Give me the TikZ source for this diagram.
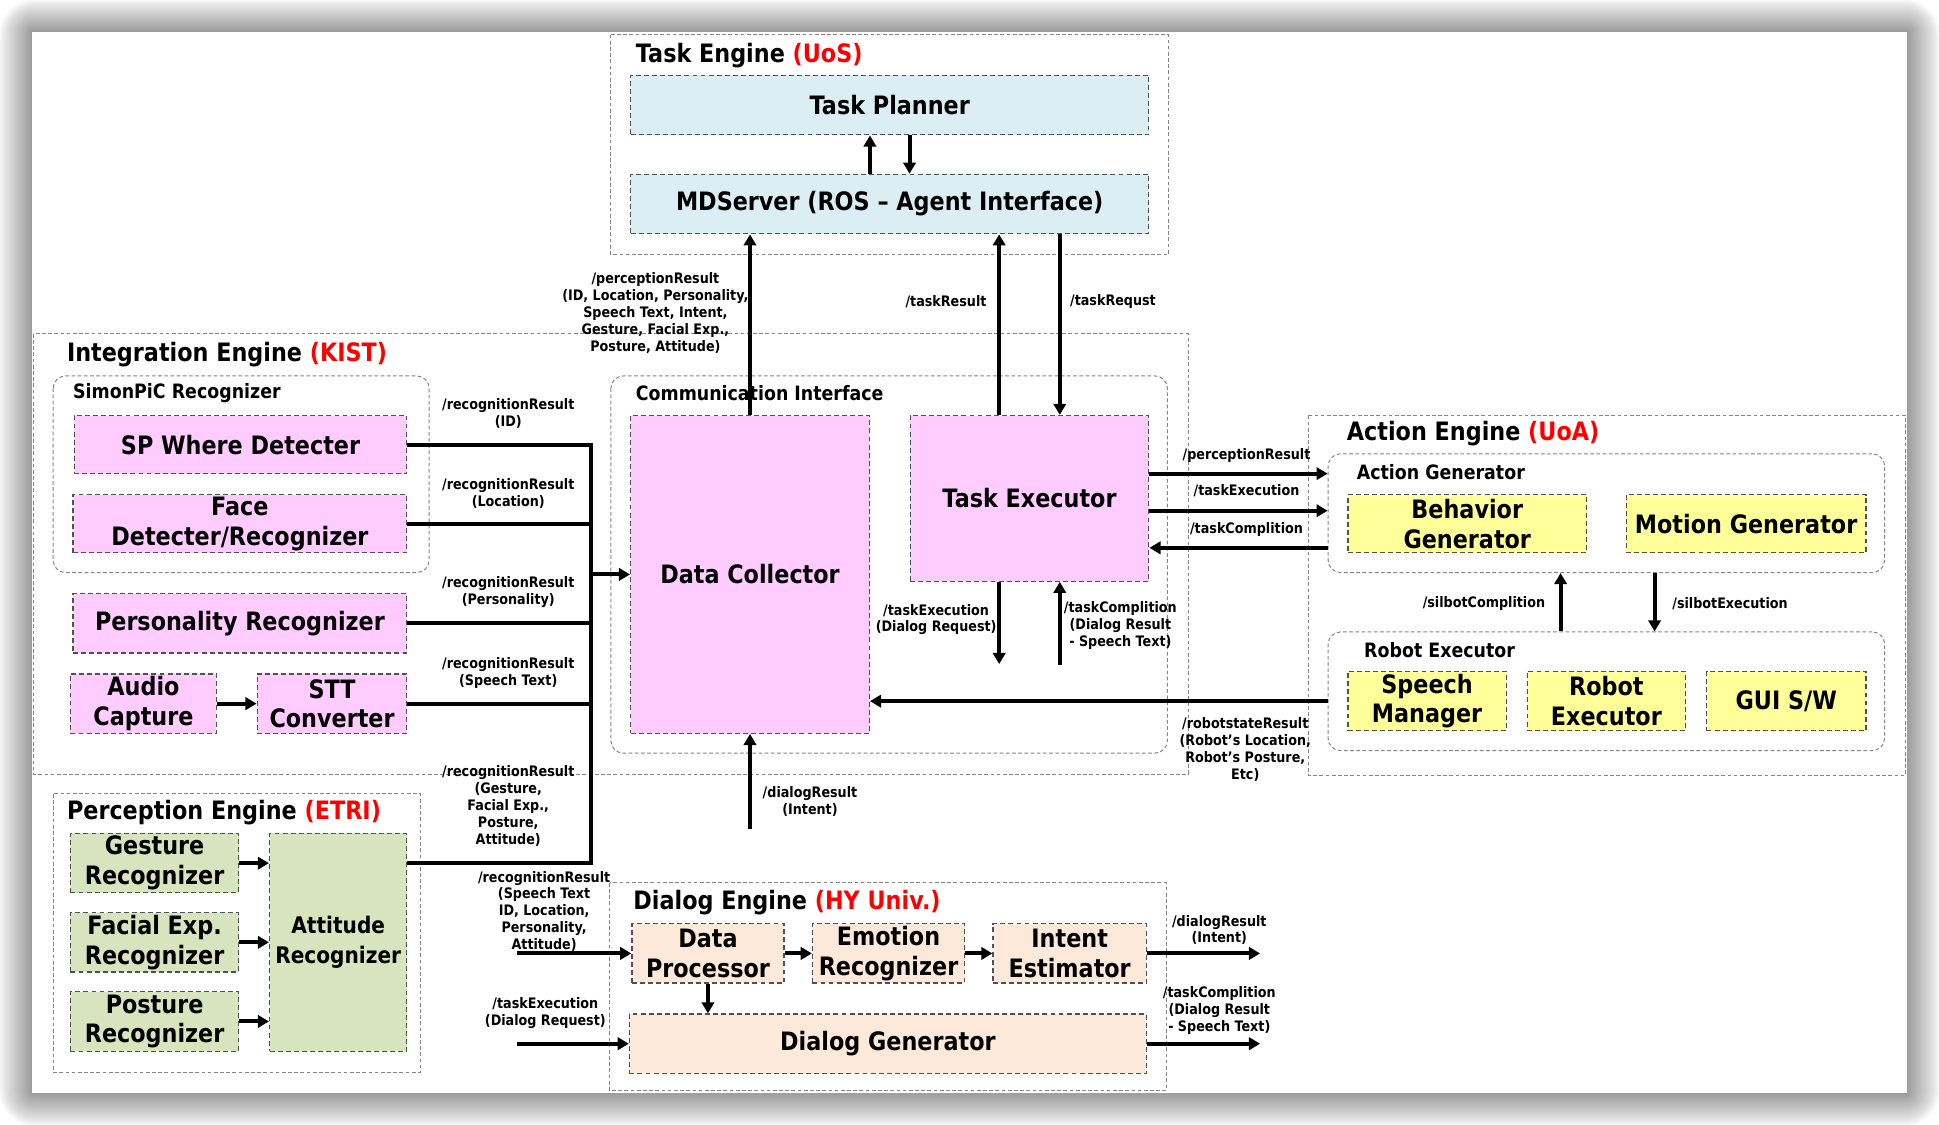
\documentclass[tikz,border=0pt]{standalone}
\usepackage{fontspec}
\setmainfont{DejaVu Sans}[FakeStretch=0.88]
\usetikzlibrary{arrows.meta}
\definecolor{cblue}{HTML}{DAEEF3}
\definecolor{cpink}{HTML}{FFCCFF}
\definecolor{cyel}{HTML}{FFFF99}
\definecolor{cgreen}{HTML}{D7E4BD}
\definecolor{cpeach}{HTML}{FDE9D9}
\definecolor{bord}{HTML}{505050}
\definecolor{cbord}{HTML}{858585}
\newcommand\boxfont{\fontsize{20.5}{24}\selectfont\bfseries}
\newcommand\subfont{\fontsize{16}{19}\selectfont\bfseries}
\newcommand\labfont{\fontsize{11.7}{13.7}\selectfont\bfseries}
\begin{document}
\begin{tikzpicture}[x=1pt,y=-1pt,
  comp/.style={draw=bord, line width=1pt, dash pattern=on 4pt off 2.5pt, inner sep=0pt, align=center, font=\boxfont},
  cont/.style={draw=cbord, line width=0.8pt, dash pattern=on 3pt off 2pt},
  rcont/.style={cont, rounded corners=10pt},
  ttl/.style={anchor=west, inner sep=0pt, font=\boxfont},
  sub/.style={anchor=west, inner sep=0pt, font=\subfont},
  lab/.style={align=center, inner sep=0pt, font=\labfont},
  arr/.style={line width=3.2pt, -{Triangle[length=9pt,width=10pt]}},
  bus/.style={line width=3.2pt}]
\useasboundingbox (0,0) rectangle (1568,909.7);
% shadow and panel
\foreach \r in {1,...,30}
  \fill[black, opacity=0.015, rounded corners=\r pt] (26-0.9*\r,26-0.9*\r) rectangle (1542+0.9*\r,884+0.9*\r);
\fill[white] (26,26) rectangle (1542,884);
% containers
\path[cont] (494,28) rectangle (945,206);
\path[cont] (27,270) rectangle (961,626);
\path[rcont] (43,304) rectangle (347,463);
\path[rcont] (494,304) rectangle (944,609);
\path[cont] (1058,336) rectangle (1541,627);
\node[rcont, minimum width=450pt, minimum height=96pt] (ag) at (1299,415) {};
\node[rcont, minimum width=450pt, minimum height=96pt] (rx) at (1299,559) {};
\path[cont] (43,642) rectangle (340,867);
\path[cont] (493,714) rectangle (943,882);
% titles
\node[ttl] (t1) at (514,45) {Task Engine \textcolor{red}{(UoS)}};
\node[ttl] (t2) at (54,287) {Integration Engine \textcolor{red}{(KIST)}};
\node[sub] (t3) at (59,318) {SimonPiC Recognizer};
\node[sub] (t4) at (514,318) {Communication Interface};
\node[ttl] (t5) at (1089,351) {Action Engine \textcolor{red}{(UoA)}};
\node[sub] (t6) at (1097,382) {Action Generator};
\node[sub] (t7) at (1103,526) {Robot Executor};
\node[ttl] (t8) at (54,657) {Perception Engine \textcolor{red}{(ETRI)}};
\node[ttl] (t9) at (512,730) {Dialog Engine \textcolor{red}{(HY Univ.)}};
% components
\node[comp, fill=cblue, minimum width=419pt, minimum height=48pt] (tp) at (719.5,85) {Task Planner};
\node[comp, fill=cblue, minimum width=419pt, minimum height=48pt] (md) at (719.5,165) {MDServer (ROS – Agent Interface)};
\node[comp, fill=cpink, minimum width=269pt, minimum height=47pt] (sp) at (194.5,359.5) {SP Where Detecter};
\node[comp, fill=cpink, minimum width=270pt, minimum height=47pt] (face) at (194,423.5) {Face\\Detecter/Recognizer};
\node[comp, fill=cpink, minimum width=270pt, minimum height=48pt] (pers) at (194,504) {Personality Recognizer};
\node[comp, fill=cpink, minimum width=118pt, minimum height=48pt] (audio) at (116,569) {Audio\\Capture};
\node[comp, fill=cpink, minimum width=121pt, minimum height=48pt] (stt) at (268.5,569) {STT\\Converter};
\node[comp, fill=cpink, minimum width=193pt, minimum height=257pt] (dc) at (606.5,464.5) {Data Collector};
\node[comp, fill=cpink, minimum width=193pt, minimum height=134pt] (te) at (832.5,403) {Task Executor};
\node[comp, fill=cyel, minimum width=193pt, minimum height=47pt] (bg) at (1186.5,423.5) {Behavior\\Generator};
\node[comp, fill=cyel, minimum width=194pt, minimum height=47pt] (mg) at (1412,423.5) {Motion Generator};
\node[comp, fill=cyel, minimum width=128pt, minimum height=48pt] (sm) at (1154,567) {Speech\\Manager};
\node[comp, fill=cyel, minimum width=128pt, minimum height=48pt] (re) at (1299,567) {Robot\\Executor};
\node[comp, fill=cyel, minimum width=129pt, minimum height=48pt] (gui) at (1444.5,567) {GUI S/W};
\node[comp, fill=cgreen, minimum width=136pt, minimum height=48pt] (ges) at (125,698) {Gesture\\Recognizer};
\node[comp, fill=cgreen, minimum width=136pt, minimum height=48pt] (fac) at (125,762) {Facial Exp.\\Recognizer};
\node[comp, fill=cgreen, minimum width=136pt, minimum height=48pt] (pos) at (125,826) {Posture\\Recognizer};
\node[comp, fill=cgreen, minimum width=111pt, minimum height=176pt, font=\fontsize{18.5}{24}\selectfont\bfseries] (att) at (273.5,762) {Attitude\\Recognizer};
\node[comp, fill=cpeach, minimum width=123pt, minimum height=48pt] (dp) at (572.5,771) {Data\\Processor};
\node[comp, fill=cpeach, minimum width=123pt, minimum height=48pt] (er) at (718.5,771) {Emotion\\Recognizer};
\node[comp, fill=cpeach, minimum width=124pt, minimum height=48pt] (ie) at (865,771) {Intent\\Estimator};
\node[comp, fill=cpeach, minimum width=418pt, minimum height=48pt] (dg) at (718,844) {Dialog Generator};
% bus
\coordinate (bx) at (478,0);
\draw[bus] (sp.east) -| (ges.east -| bx) -- (ges.east -| att.east);
\draw[bus] (face.east) -- (face.east -| bx);
\draw[bus] (pers.east) -- (pers.east -| bx);
\draw[bus] (stt.east) -- (stt.east -| bx);
\draw[arr] (dc.west -| bx) -- (dc.west);
% local arrows
\draw[arr] (audio.east) -- (stt.west);
\draw[arr] (ges.east) -- (ges.east -| att.west);
\draw[arr] (fac.east) -- (fac.east -| att.west);
\draw[arr] (pos.east) -- (pos.east -| att.west);
\draw[arr] (dp.east) -- (er.west);
\draw[arr] (er.east) -- (ie.west);
\draw[arr] (dp.south) -- (dp.south |- dg.north);
\draw[arr] ([xshift=-16pt]md.north) -- ([xshift=-16pt]md.north |- tp.south);
\draw[arr] ([xshift=16pt]tp.south) -- ([xshift=16pt]tp.south |- md.north);
% main arrows
\draw[arr] (dc.north) -- (dc.north |- md.south);
\draw[arr] ([xshift=-24.5pt]te.north) -- ([xshift=-24.5pt]te.north |- md.south);
\draw[arr] ([xshift=24.5pt]te.north |- md.south) -- ([xshift=24.5pt]te.north);
\draw[arr] ([yshift=20pt]te.east) -- ([yshift=20pt]te.east -| ag.west);
\draw[arr] ([yshift=-10pt]te.east) -- ([yshift=-10pt]te.east -| ag.west);
\draw[arr] ([yshift=-40pt]te.east -| ag.west) -- ([yshift=-40pt]te.east);
\draw[arr] ([yshift=-8pt]rx.west) -- ([yshift=-8pt]rx.west -| dc.east);
\draw[arr] ([xshift=-37pt]rx.north) -- ([xshift=-37pt]rx.north |- ag.south);
\draw[arr] ([xshift=39pt]ag.south) -- ([xshift=39pt]ag.south |- rx.north);
\coordinate (tex) at (808,537);
\coordinate (tcp) at (857,538);
\draw[arr] (tex |- te.south) -- (tex);
\draw[arr] (tcp) -- (tcp |- te.south);
\coordinate (dres) at (607,670);
\draw[arr] (dc.south |- dres) -- (dc.south);
\coordinate (din1) at (418,771);
\coordinate (din2) at (418,844);
\coordinate (dout1) at (1019,771);
\coordinate (dout2) at (1019,844);
\draw[arr] (din1) -- (dp.west);
\draw[arr] (din2) -- (dg.west);
\draw[arr] (ie.east) -- (dout1);
\draw[arr] (dg.east) -- (dout2);
% labels
\node[lab] (l1) at (411,334) {/recognitionResult\\(ID)};
\node[lab] (l2) at (411,399) {/recognitionResult\\(Location)};
\node[lab] (l3) at (411,479) {/recognitionResult\\(Personality)};
\node[lab] (l4) at (411,544) {/recognitionResult\\(Speech Text)};
\node[lab] (l5) at (411,652) {/recognitionResult\\(Gesture,\\Facial Exp.,\\Posture,\\Attitude)};
\node[lab] (l6) at (530,253) {/perceptionResult\\(ID, Location, Personality,\\Speech Text, Intent,\\Gesture, Facial Exp.,\\Posture, Attitude)};
\node[lab] (l7) at (765,244) {/taskResult};
\node[lab] (l8) at (900,244) {/taskRequst};
\node[lab] (l9) at (1008,368) {/perceptionResult};
\node[lab] (l10) at (1008,397) {/taskExecution};
\node[lab] (l11) at (1008,428) {/taskComplition};
\node[lab] (l12) at (757,501) {/taskExecution\\(Dialog Request)};
\node[lab] (l13) at (906,506) {/taskComplition\\(Dialog Result\\- Speech Text)};
\node[lab] (l14) at (1007,606) {/robotstateResult\\(Robot's Location,\\Robot's Posture,\\Etc)};
\node[lab] (l15) at (1200,488) {/silbotComplition};
\node[lab] (l16) at (1399,488) {/silbotExecution};
\node[lab] (l17) at (655,648) {/dialogResult\\(Intent)};
\node[lab] (l18) at (440,737) {/recognitionResult\\(Speech Text\\ID, Location,\\Personality,\\Attitude)};
\node[lab] (l19) at (441,819) {/taskExecution\\(Dialog Request)};
\node[lab] (l20) at (986,752) {/dialogResult\\(Intent)};
\node[lab] (l21) at (986,817) {/taskComplition\\(Dialog Result\\- Speech Text)};
\end{tikzpicture}
\end{document}
